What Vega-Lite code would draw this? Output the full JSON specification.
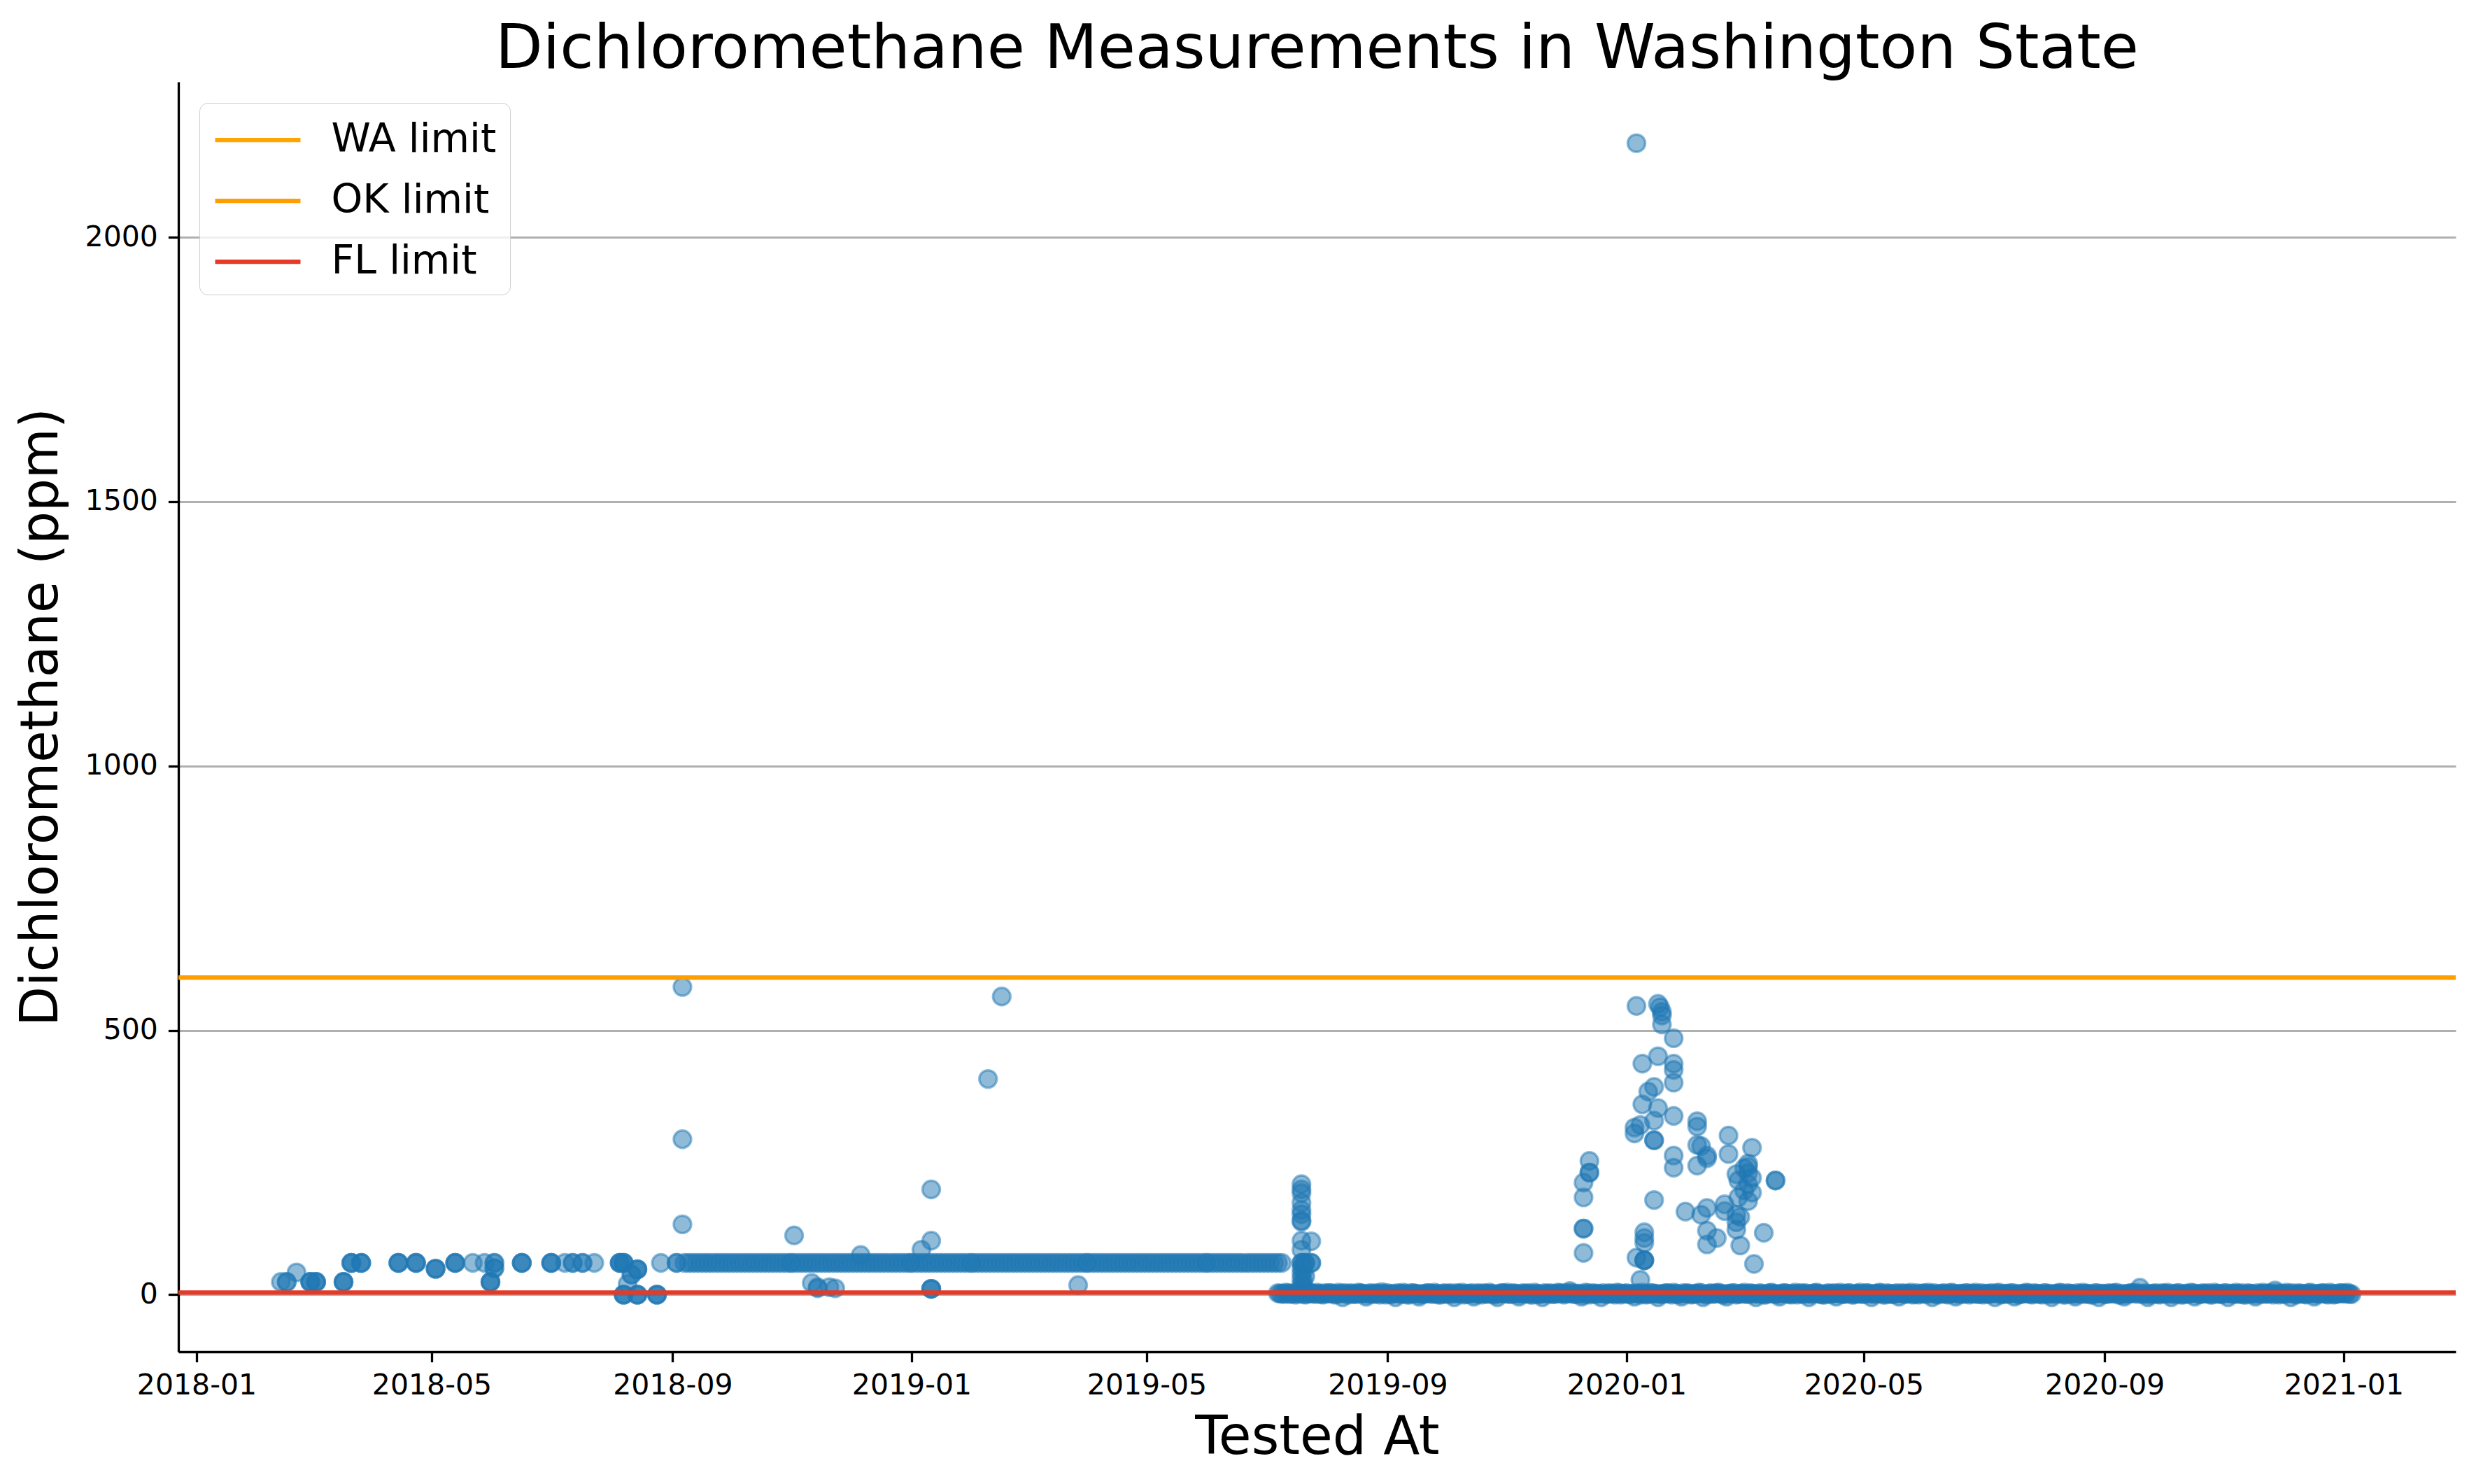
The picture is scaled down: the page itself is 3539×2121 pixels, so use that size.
{
  "$schema": "https://vega.github.io/schema/vega-lite/v6.json",
  "autosize": {"type": "none"},
  "width": 3255,
  "height": 1815,
  "padding": {"left": 255, "top": 117, "right": 29, "bottom": 189},
  "background": "white",
  "title": {
    "text": "Dichloromethane Measurements in Washington State",
    "font": "DejaVu Sans", "fontSize": 88, "fontWeight": "normal", "color": "black",
    "anchor": "middle", "frame": "group", "baseline": "bottom", "offset": 0, "dy": 86
  },
  "datasets": {
    "lim": [
      {"limit": "WA limit", "v": 600},
      {"limit": "OK limit", "v": 600},
      {"limit": "FL limit", "v": 4}
    ],
    "pts": [
      {"t":"2018-02-13","v":24},
      {"t":"2018-02-16","v":24},{"t":"2018-02-16","v":24},
      {"t":"2018-02-21","v":42},
      {"t":"2018-02-28","v":24},{"t":"2018-02-28","v":24},{"t":"2018-02-28","v":24},
      {"t":"2018-03-03","v":24},{"t":"2018-03-03","v":24},{"t":"2018-03-03","v":24},
      {"t":"2018-03-17","v":24},{"t":"2018-03-17","v":24},{"t":"2018-03-17","v":24},
      {"t":"2018-03-21","v":60},{"t":"2018-03-21","v":60},{"t":"2018-03-21","v":60},
      {"t":"2018-03-26","v":60},{"t":"2018-03-26","v":60},{"t":"2018-03-26","v":60},
      {"t":"2018-04-14","v":60},{"t":"2018-04-14","v":60},{"t":"2018-04-14","v":60},
      {"t":"2018-04-23","v":60},{"t":"2018-04-23","v":60},{"t":"2018-04-23","v":60},
      {"t":"2018-05-03","v":49},{"t":"2018-05-03","v":49},{"t":"2018-05-03","v":49},
      {"t":"2018-05-13","v":60},{"t":"2018-05-13","v":60},{"t":"2018-05-13","v":60},
      {"t":"2018-05-22","v":60},
      {"t":"2018-05-28","v":60},
      {"t":"2018-05-31","v":24},{"t":"2018-05-31","v":24},{"t":"2018-05-31","v":24},
      {"t":"2018-06-02","v":60},{"t":"2018-06-02","v":60},{"t":"2018-06-02","v":50},{"t":"2018-06-02","v":50},
      {"t":"2018-06-16","v":60},{"t":"2018-06-16","v":60},{"t":"2018-06-16","v":60},
      {"t":"2018-07-01","v":60},{"t":"2018-07-01","v":60},{"t":"2018-07-01","v":60},
      {"t":"2018-07-08","v":60},
      {"t":"2018-07-12","v":60},{"t":"2018-07-12","v":60},
      {"t":"2018-07-17","v":60},{"t":"2018-07-17","v":60},
      {"t":"2018-07-23","v":60},
      {"t":"2018-08-05","v":60},{"t":"2018-08-05","v":60},{"t":"2018-08-05","v":60},
      {"t":"2018-08-07","v":60},{"t":"2018-08-07","v":60},{"t":"2018-08-07","v":60},
      {"t":"2018-08-07","v":0},{"t":"2018-08-07","v":0},{"t":"2018-08-07","v":0},
      {"t":"2018-08-09","v":20},
      {"t":"2018-08-11","v":38},{"t":"2018-08-11","v":38},
      {"t":"2018-08-14","v":48},{"t":"2018-08-14","v":48},{"t":"2018-08-14","v":48},
      {"t":"2018-08-14","v":0},{"t":"2018-08-14","v":0},{"t":"2018-08-14","v":0},
      {"t":"2018-08-24","v":0},{"t":"2018-08-24","v":0},{"t":"2018-08-24","v":0},
      {"t":"2018-08-26","v":60},
      {"t":"2018-09-03","v":60},{"t":"2018-09-03","v":60},
      {"t":"2018-09-06","v":582},{"t":"2018-09-06","v":294},{"t":"2018-09-06","v":133},

      {"t":"2018-09-07","v":60},{"t":"2018-09-09","v":60},{"t":"2018-09-11","v":60},{"t":"2018-09-13","v":60},{"t":"2018-09-15","v":60},{"t":"2018-09-17","v":60},{"t":"2018-09-19","v":60},{"t":"2018-09-21","v":60},{"t":"2018-09-23","v":60},{"t":"2018-09-25","v":60},{"t":"2018-09-27","v":60},{"t":"2018-09-29","v":60},
      {"t":"2018-10-01","v":60},{"t":"2018-10-03","v":60},{"t":"2018-10-05","v":60},{"t":"2018-10-07","v":60},{"t":"2018-10-09","v":60},{"t":"2018-10-11","v":60},{"t":"2018-10-13","v":60},{"t":"2018-10-15","v":60},{"t":"2018-10-17","v":60},{"t":"2018-10-19","v":60},{"t":"2018-10-21","v":60},{"t":"2018-10-23","v":60},{"t":"2018-10-25","v":60},{"t":"2018-10-27","v":60},{"t":"2018-10-29","v":60},{"t":"2018-10-31","v":60},
      {"t":"2018-11-01","v":60},{"t":"2018-11-03","v":60},{"t":"2018-11-05","v":60},{"t":"2018-11-07","v":60},{"t":"2018-11-09","v":60},{"t":"2018-11-11","v":60},{"t":"2018-11-13","v":60},{"t":"2018-11-15","v":60},{"t":"2018-11-17","v":60},{"t":"2018-11-19","v":60},{"t":"2018-11-21","v":60},{"t":"2018-11-23","v":60},{"t":"2018-11-25","v":60},{"t":"2018-11-27","v":60},{"t":"2018-11-29","v":60},
      {"t":"2018-12-01","v":60},{"t":"2018-12-03","v":60},{"t":"2018-12-05","v":60},{"t":"2018-12-07","v":60},{"t":"2018-12-09","v":60},{"t":"2018-12-11","v":60},{"t":"2018-12-13","v":60},{"t":"2018-12-15","v":60},{"t":"2018-12-17","v":60},{"t":"2018-12-19","v":60},{"t":"2018-12-21","v":60},{"t":"2018-12-23","v":60},{"t":"2018-12-25","v":60},{"t":"2018-12-27","v":60},{"t":"2018-12-29","v":60},{"t":"2018-12-31","v":60},
      {"t":"2019-01-01","v":60},{"t":"2019-01-03","v":60},{"t":"2019-01-05","v":60},{"t":"2019-01-07","v":60},{"t":"2019-01-09","v":60},{"t":"2019-01-11","v":60},{"t":"2019-01-13","v":60},{"t":"2019-01-15","v":60},{"t":"2019-01-17","v":60},{"t":"2019-01-19","v":60},{"t":"2019-01-21","v":60},{"t":"2019-01-23","v":60},{"t":"2019-01-25","v":60},{"t":"2019-01-27","v":60},{"t":"2019-01-29","v":60},{"t":"2019-01-31","v":60},
      {"t":"2019-02-01","v":60},{"t":"2019-02-03","v":60},{"t":"2019-02-05","v":60},{"t":"2019-02-07","v":60},{"t":"2019-02-09","v":60},{"t":"2019-02-11","v":60},{"t":"2019-02-13","v":60},{"t":"2019-02-15","v":60},{"t":"2019-02-17","v":60},{"t":"2019-02-19","v":60},{"t":"2019-02-21","v":60},{"t":"2019-02-23","v":60},{"t":"2019-02-25","v":60},{"t":"2019-02-27","v":60},
      {"t":"2019-03-01","v":60},{"t":"2019-03-03","v":60},{"t":"2019-03-05","v":60},{"t":"2019-03-07","v":60},{"t":"2019-03-09","v":60},{"t":"2019-03-11","v":60},{"t":"2019-03-13","v":60},{"t":"2019-03-15","v":60},{"t":"2019-03-17","v":60},{"t":"2019-03-19","v":60},{"t":"2019-03-21","v":60},{"t":"2019-03-23","v":60},{"t":"2019-03-25","v":60},{"t":"2019-03-27","v":60},{"t":"2019-03-29","v":60},{"t":"2019-03-31","v":60},
      {"t":"2019-04-01","v":60},{"t":"2019-04-03","v":60},{"t":"2019-04-05","v":60},{"t":"2019-04-07","v":60},{"t":"2019-04-09","v":60},{"t":"2019-04-11","v":60},{"t":"2019-04-13","v":60},{"t":"2019-04-15","v":60},{"t":"2019-04-17","v":60},{"t":"2019-04-19","v":60},{"t":"2019-04-21","v":60},{"t":"2019-04-23","v":60},{"t":"2019-04-25","v":60},{"t":"2019-04-27","v":60},{"t":"2019-04-29","v":60},
      {"t":"2019-05-01","v":60},{"t":"2019-05-03","v":60},{"t":"2019-05-05","v":60},{"t":"2019-05-07","v":60},{"t":"2019-05-09","v":60},{"t":"2019-05-11","v":60},{"t":"2019-05-13","v":60},{"t":"2019-05-15","v":60},{"t":"2019-05-17","v":60},{"t":"2019-05-19","v":60},{"t":"2019-05-21","v":60},{"t":"2019-05-23","v":60},{"t":"2019-05-25","v":60},{"t":"2019-05-27","v":60},{"t":"2019-05-29","v":60},{"t":"2019-05-31","v":60},
      {"t":"2019-06-01","v":60},{"t":"2019-06-03","v":60},{"t":"2019-06-05","v":60},{"t":"2019-06-07","v":60},{"t":"2019-06-09","v":60},{"t":"2019-06-11","v":60},{"t":"2019-06-13","v":60},{"t":"2019-06-15","v":60},{"t":"2019-06-17","v":60},{"t":"2019-06-19","v":60},{"t":"2019-06-21","v":60},{"t":"2019-06-23","v":60},{"t":"2019-06-25","v":60},{"t":"2019-06-27","v":60},{"t":"2019-06-29","v":60},
      {"t":"2019-07-01","v":60},{"t":"2019-07-03","v":60},{"t":"2019-07-05","v":60},{"t":"2019-07-07","v":60},{"t":"2019-07-09","v":60},

      {"t":"2018-11-02","v":112},
      {"t":"2018-11-11","v":22},{"t":"2018-11-14","v":12},{"t":"2018-11-14","v":14},{"t":"2018-11-20","v":14},{"t":"2018-11-23","v":12},
      {"t":"2018-12-06","v":75},
      {"t":"2019-01-06","v":85},
      {"t":"2019-01-11","v":199},{"t":"2019-01-11","v":102},{"t":"2019-01-11","v":11},{"t":"2019-01-11","v":11},{"t":"2019-01-11","v":11},
      {"t":"2019-02-09","v":408},
      {"t":"2019-02-16","v":564},
      {"t":"2019-03-27","v":18},

      {"t":"2019-07-19","v":209},{"t":"2019-07-19","v":199},{"t":"2019-07-19","v":192},{"t":"2019-07-19","v":174},{"t":"2019-07-19","v":160},{"t":"2019-07-19","v":152},{"t":"2019-07-19","v":140},{"t":"2019-07-19","v":138},{"t":"2019-07-19","v":102},{"t":"2019-07-19","v":85},{"t":"2019-07-19","v":60},{"t":"2019-07-19","v":60},{"t":"2019-07-19","v":50},{"t":"2019-07-19","v":40},{"t":"2019-07-19","v":30},{"t":"2019-07-19","v":20},{"t":"2019-07-19","v":10},
      {"t":"2019-07-20","v":45},{"t":"2019-07-20","v":25},{"t":"2019-07-20","v":15},{"t":"2019-07-20","v":60},
      {"t":"2019-07-21","v":60},{"t":"2019-07-21","v":60},{"t":"2019-07-21","v":35},
      {"t":"2019-07-24","v":101},{"t":"2019-07-24","v":60},{"t":"2019-07-24","v":60},

      {"t":"2019-07-07","v":3},{"t":"2019-07-09","v":2},{"t":"2019-07-11","v":4},{"t":"2019-07-13","v":1},{"t":"2019-07-15","v":3},{"t":"2019-07-17","v":2},{"t":"2019-07-19","v":5},{"t":"2019-07-21","v":0},{"t":"2019-07-23","v":3},{"t":"2019-07-25","v":2},{"t":"2019-07-27","v":4},{"t":"2019-07-29","v":1},{"t":"2019-07-31","v":3},
      {"t":"2019-08-01","v":2},{"t":"2019-08-03","v":3},{"t":"2019-08-05","v":0},{"t":"2019-08-07","v":4},{"t":"2019-08-09","v":-5},{"t":"2019-08-11","v":2},{"t":"2019-08-13","v":3},{"t":"2019-08-15","v":1},{"t":"2019-08-17","v":4},{"t":"2019-08-19","v":2},{"t":"2019-08-21","v":-4},{"t":"2019-08-23","v":3},{"t":"2019-08-25","v":1},{"t":"2019-08-27","v":2},{"t":"2019-08-29","v":5},{"t":"2019-08-31","v":0},
      {"t":"2019-09-01","v":3},{"t":"2019-09-03","v":1},{"t":"2019-09-05","v":-5},{"t":"2019-09-07","v":2},{"t":"2019-09-09","v":4},{"t":"2019-09-11","v":0},{"t":"2019-09-13","v":3},{"t":"2019-09-15","v":2},{"t":"2019-09-17","v":-4},{"t":"2019-09-19","v":1},{"t":"2019-09-21","v":3},{"t":"2019-09-23","v":2},{"t":"2019-09-25","v":4},{"t":"2019-09-27","v":0},{"t":"2019-09-29","v":2},
      {"t":"2019-10-01","v":1},{"t":"2019-10-03","v":3},{"t":"2019-10-05","v":-5},{"t":"2019-10-07","v":2},{"t":"2019-10-09","v":4},{"t":"2019-10-11","v":1},{"t":"2019-10-13","v":2},{"t":"2019-10-15","v":-4},{"t":"2019-10-17","v":3},{"t":"2019-10-19","v":0},{"t":"2019-10-21","v":2},{"t":"2019-10-23","v":4},{"t":"2019-10-25","v":1},{"t":"2019-10-27","v":-5},{"t":"2019-10-29","v":3},{"t":"2019-10-31","v":2},
      {"t":"2019-11-01","v":4},{"t":"2019-11-03","v":1},{"t":"2019-11-05","v":2},{"t":"2019-11-07","v":-4},{"t":"2019-11-09","v":3},{"t":"2019-11-11","v":2},{"t":"2019-11-13","v":0},{"t":"2019-11-15","v":4},{"t":"2019-11-17","v":1},{"t":"2019-11-19","v":-5},{"t":"2019-11-21","v":2},{"t":"2019-11-23","v":3},{"t":"2019-11-25","v":1},{"t":"2019-11-27","v":4},{"t":"2019-11-29","v":2},
      {"t":"2019-12-01","v":3},{"t":"2019-12-03","v":7},{"t":"2019-12-05","v":1},{"t":"2019-12-07","v":2},{"t":"2019-12-09","v":-4},{"t":"2019-12-11","v":4},{"t":"2019-12-13","v":0},{"t":"2019-12-15","v":3},{"t":"2019-12-17","v":2},{"t":"2019-12-19","v":-5},{"t":"2019-12-21","v":1},{"t":"2019-12-23","v":3},{"t":"2019-12-25","v":2},{"t":"2019-12-27","v":4},{"t":"2019-12-29","v":0},{"t":"2019-12-31","v":2},
      {"t":"2020-01-01","v":3},{"t":"2020-01-03","v":1},{"t":"2020-01-05","v":-4},{"t":"2020-01-07","v":2},{"t":"2020-01-09","v":4},{"t":"2020-01-11","v":0},{"t":"2020-01-13","v":3},{"t":"2020-01-15","v":2},{"t":"2020-01-17","v":-5},{"t":"2020-01-19","v":1},{"t":"2020-01-21","v":3},{"t":"2020-01-23","v":2},{"t":"2020-01-25","v":4},{"t":"2020-01-27","v":1},{"t":"2020-01-29","v":-4},{"t":"2020-01-31","v":2},
      {"t":"2020-02-01","v":3},{"t":"2020-02-03","v":0},{"t":"2020-02-05","v":2},{"t":"2020-02-07","v":4},{"t":"2020-02-09","v":-5},{"t":"2020-02-11","v":1},{"t":"2020-02-13","v":3},{"t":"2020-02-15","v":2},{"t":"2020-02-17","v":4},{"t":"2020-02-19","v":0},{"t":"2020-02-21","v":-4},{"t":"2020-02-23","v":2},{"t":"2020-02-25","v":3},{"t":"2020-02-27","v":1},{"t":"2020-02-29","v":2},
      {"t":"2020-03-01","v":4},{"t":"2020-03-03","v":1},{"t":"2020-03-05","v":2},{"t":"2020-03-07","v":-5},{"t":"2020-03-09","v":3},{"t":"2020-03-11","v":0},{"t":"2020-03-13","v":2},{"t":"2020-03-15","v":4},{"t":"2020-03-17","v":1},{"t":"2020-03-19","v":-4},{"t":"2020-03-21","v":3},{"t":"2020-03-23","v":2},{"t":"2020-03-25","v":0},{"t":"2020-03-27","v":4},{"t":"2020-03-29","v":2},{"t":"2020-03-31","v":1},
      {"t":"2020-04-01","v":3},{"t":"2020-04-03","v":-5},{"t":"2020-04-05","v":2},{"t":"2020-04-07","v":4},{"t":"2020-04-09","v":1},{"t":"2020-04-11","v":0},{"t":"2020-04-13","v":3},{"t":"2020-04-15","v":2},{"t":"2020-04-17","v":-4},{"t":"2020-04-19","v":4},{"t":"2020-04-21","v":1},{"t":"2020-04-23","v":3},{"t":"2020-04-25","v":0},{"t":"2020-04-27","v":2},{"t":"2020-04-29","v":4},
      {"t":"2020-05-01","v":1},{"t":"2020-05-03","v":3},{"t":"2020-05-05","v":-5},{"t":"2020-05-07","v":2},{"t":"2020-05-09","v":4},{"t":"2020-05-11","v":0},{"t":"2020-05-13","v":3},{"t":"2020-05-15","v":1},{"t":"2020-05-17","v":2},{"t":"2020-05-19","v":-4},{"t":"2020-05-21","v":3},{"t":"2020-05-23","v":2},{"t":"2020-05-25","v":4},{"t":"2020-05-27","v":1},{"t":"2020-05-29","v":0},{"t":"2020-05-31","v":2},
      {"t":"2020-06-01","v":3},{"t":"2020-06-03","v":4},{"t":"2020-06-05","v":-5},{"t":"2020-06-07","v":1},{"t":"2020-06-09","v":2},{"t":"2020-06-11","v":3},{"t":"2020-06-13","v":0},{"t":"2020-06-15","v":4},{"t":"2020-06-17","v":-4},{"t":"2020-06-19","v":2},{"t":"2020-06-21","v":1},{"t":"2020-06-23","v":3},{"t":"2020-06-25","v":2},{"t":"2020-06-27","v":4},{"t":"2020-06-29","v":1},
      {"t":"2020-07-01","v":0},{"t":"2020-07-03","v":2},{"t":"2020-07-05","v":3},{"t":"2020-07-07","v":-5},{"t":"2020-07-09","v":4},{"t":"2020-07-11","v":1},{"t":"2020-07-13","v":2},{"t":"2020-07-15","v":3},{"t":"2020-07-17","v":-4},{"t":"2020-07-19","v":0},{"t":"2020-07-21","v":2},{"t":"2020-07-23","v":4},{"t":"2020-07-25","v":1},{"t":"2020-07-27","v":3},{"t":"2020-07-29","v":2},{"t":"2020-07-31","v":0},
      {"t":"2020-08-01","v":3},{"t":"2020-08-03","v":1},{"t":"2020-08-05","v":-5},{"t":"2020-08-07","v":2},{"t":"2020-08-09","v":4},{"t":"2020-08-11","v":0},{"t":"2020-08-13","v":3},{"t":"2020-08-15","v":2},{"t":"2020-08-17","v":-4},{"t":"2020-08-19","v":1},{"t":"2020-08-21","v":4},{"t":"2020-08-23","v":2},{"t":"2020-08-25","v":0},{"t":"2020-08-27","v":3},{"t":"2020-08-29","v":-5},{"t":"2020-08-31","v":2},
      {"t":"2020-09-01","v":1},{"t":"2020-09-03","v":3},{"t":"2020-09-05","v":2},{"t":"2020-09-07","v":4},{"t":"2020-09-09","v":0},{"t":"2020-09-11","v":-4},{"t":"2020-09-13","v":2},{"t":"2020-09-15","v":3},{"t":"2020-09-17","v":4},{"t":"2020-09-19","v":13},{"t":"2020-09-21","v":1},{"t":"2020-09-23","v":-5},{"t":"2020-09-25","v":2},{"t":"2020-09-27","v":3},{"t":"2020-09-29","v":0},
      {"t":"2020-10-01","v":2},{"t":"2020-10-03","v":4},{"t":"2020-10-05","v":-5},{"t":"2020-10-07","v":1},{"t":"2020-10-09","v":3},{"t":"2020-10-11","v":0},{"t":"2020-10-13","v":2},{"t":"2020-10-15","v":4},{"t":"2020-10-17","v":-4},{"t":"2020-10-19","v":1},{"t":"2020-10-21","v":3},{"t":"2020-10-23","v":2},{"t":"2020-10-25","v":0},{"t":"2020-10-27","v":4},{"t":"2020-10-29","v":2},{"t":"2020-10-31","v":1},
      {"t":"2020-11-01","v":3},{"t":"2020-11-03","v":-5},{"t":"2020-11-05","v":2},{"t":"2020-11-07","v":4},{"t":"2020-11-09","v":1},{"t":"2020-11-11","v":0},{"t":"2020-11-13","v":3},{"t":"2020-11-15","v":2},{"t":"2020-11-17","v":-4},{"t":"2020-11-19","v":1},{"t":"2020-11-21","v":4},{"t":"2020-11-23","v":2},{"t":"2020-11-25","v":3},{"t":"2020-11-27","v":8},{"t":"2020-11-29","v":0},
      {"t":"2020-12-01","v":2},{"t":"2020-12-03","v":4},{"t":"2020-12-05","v":-5},{"t":"2020-12-07","v":1},{"t":"2020-12-09","v":3},{"t":"2020-12-11","v":2},{"t":"2020-12-13","v":0},{"t":"2020-12-15","v":4},{"t":"2020-12-17","v":-4},{"t":"2020-12-19","v":2},{"t":"2020-12-21","v":3},{"t":"2020-12-23","v":1},{"t":"2020-12-25","v":4},{"t":"2020-12-27","v":0},{"t":"2020-12-29","v":2},{"t":"2020-12-31","v":3},
      {"t":"2021-01-01","v":2},{"t":"2021-01-03","v":4},{"t":"2021-01-05","v":1},

      {"t":"2019-07-08","v":2},{"t":"2019-07-10","v":1},{"t":"2019-07-12","v":3},{"t":"2019-07-14","v":2},{"t":"2019-07-16","v":0},{"t":"2019-07-18","v":3},{"t":"2019-07-20","v":1},{"t":"2019-07-22","v":2},{"t":"2019-07-24","v":3},{"t":"2019-07-26","v":1},{"t":"2019-07-28","v":2},{"t":"2019-07-30","v":0},
      {"t":"2019-08-02","v":3},{"t":"2019-08-04","v":2},{"t":"2019-08-06","v":1},{"t":"2019-08-08","v":2},{"t":"2019-08-10","v":3},{"t":"2019-08-12","v":0},{"t":"2019-08-14","v":2},{"t":"2019-08-16","v":1},{"t":"2019-08-18","v":3},{"t":"2019-08-20","v":2},{"t":"2019-08-22","v":1},{"t":"2019-08-24","v":2},{"t":"2019-08-26","v":3},{"t":"2019-08-28","v":0},{"t":"2019-08-30","v":2},
      {"t":"2019-09-02","v":1},{"t":"2019-09-04","v":2},{"t":"2019-09-06","v":3},{"t":"2019-09-08","v":1},{"t":"2019-09-10","v":2},{"t":"2019-09-12","v":0},{"t":"2019-09-14","v":3},{"t":"2019-09-16","v":2},{"t":"2019-09-18","v":1},{"t":"2019-09-20","v":2},{"t":"2019-09-22","v":3},{"t":"2019-09-24","v":1},{"t":"2019-09-26","v":2},{"t":"2019-09-28","v":0},{"t":"2019-09-30","v":3},
      {"t":"2019-10-02","v":2},{"t":"2019-10-04","v":1},{"t":"2019-10-06","v":3},{"t":"2019-10-08","v":2},{"t":"2019-10-10","v":0},{"t":"2019-10-12","v":2},{"t":"2019-10-14","v":3},{"t":"2019-10-16","v":1},{"t":"2019-10-18","v":2},{"t":"2019-10-20","v":3},{"t":"2019-10-22","v":1},{"t":"2019-10-24","v":2},{"t":"2019-10-26","v":0},{"t":"2019-10-28","v":2},{"t":"2019-10-30","v":3},
      {"t":"2019-11-02","v":1},{"t":"2019-11-04","v":3},{"t":"2019-11-06","v":2},{"t":"2019-11-08","v":1},{"t":"2019-11-10","v":2},{"t":"2019-11-12","v":3},{"t":"2019-11-14","v":0},{"t":"2019-11-16","v":2},{"t":"2019-11-18","v":1},{"t":"2019-11-20","v":3},{"t":"2019-11-22","v":2},{"t":"2019-11-24","v":1},{"t":"2019-11-26","v":2},{"t":"2019-11-28","v":3},{"t":"2019-11-30","v":0},
      {"t":"2019-12-02","v":2},{"t":"2019-12-04","v":3},{"t":"2019-12-06","v":1},{"t":"2019-12-08","v":2},{"t":"2019-12-10","v":0},{"t":"2019-12-12","v":3},{"t":"2019-12-14","v":2},{"t":"2019-12-16","v":1},{"t":"2019-12-18","v":2},{"t":"2019-12-20","v":3},{"t":"2019-12-22","v":1},{"t":"2019-12-24","v":2},{"t":"2019-12-26","v":0},{"t":"2019-12-28","v":3},{"t":"2019-12-30","v":2},
      {"t":"2020-01-02","v":1},{"t":"2020-01-04","v":2},{"t":"2020-01-06","v":3},{"t":"2020-01-08","v":0},{"t":"2020-01-10","v":2},{"t":"2020-01-12","v":1},{"t":"2020-01-14","v":3},{"t":"2020-01-16","v":2},{"t":"2020-01-18","v":1},{"t":"2020-01-20","v":2},{"t":"2020-01-22","v":3},{"t":"2020-01-24","v":0},{"t":"2020-01-26","v":2},{"t":"2020-01-28","v":1},{"t":"2020-01-30","v":3},
      {"t":"2020-02-02","v":2},{"t":"2020-02-04","v":1},{"t":"2020-02-06","v":2},{"t":"2020-02-08","v":3},{"t":"2020-02-10","v":0},{"t":"2020-02-12","v":2},{"t":"2020-02-14","v":1},{"t":"2020-02-16","v":3},{"t":"2020-02-18","v":2},{"t":"2020-02-20","v":1},{"t":"2020-02-22","v":2},{"t":"2020-02-24","v":3},{"t":"2020-02-26","v":0},{"t":"2020-02-28","v":2},
      {"t":"2020-03-02","v":1},{"t":"2020-03-04","v":3},{"t":"2020-03-06","v":2},{"t":"2020-03-08","v":1},{"t":"2020-03-10","v":2},{"t":"2020-03-12","v":0},{"t":"2020-03-14","v":3},{"t":"2020-03-16","v":2},{"t":"2020-03-18","v":1},{"t":"2020-03-20","v":2},{"t":"2020-03-22","v":3},{"t":"2020-03-24","v":1},{"t":"2020-03-26","v":2},{"t":"2020-03-28","v":0},{"t":"2020-03-30","v":3},
      {"t":"2020-04-02","v":2},{"t":"2020-04-04","v":1},{"t":"2020-04-06","v":3},{"t":"2020-04-08","v":2},{"t":"2020-04-10","v":0},{"t":"2020-04-12","v":2},{"t":"2020-04-14","v":1},{"t":"2020-04-16","v":3},{"t":"2020-04-18","v":2},{"t":"2020-04-20","v":1},{"t":"2020-04-22","v":2},{"t":"2020-04-24","v":3},{"t":"2020-04-26","v":0},{"t":"2020-04-28","v":2},{"t":"2020-04-30","v":1},
      {"t":"2020-05-02","v":3},{"t":"2020-05-04","v":2},{"t":"2020-05-06","v":1},{"t":"2020-05-08","v":2},{"t":"2020-05-10","v":3},{"t":"2020-05-12","v":0},{"t":"2020-05-14","v":2},{"t":"2020-05-16","v":1},{"t":"2020-05-18","v":3},{"t":"2020-05-20","v":2},{"t":"2020-05-22","v":1},{"t":"2020-05-24","v":2},{"t":"2020-05-26","v":0},{"t":"2020-05-28","v":3},{"t":"2020-05-30","v":2},
      {"t":"2020-06-02","v":1},{"t":"2020-06-04","v":2},{"t":"2020-06-06","v":3},{"t":"2020-06-08","v":0},{"t":"2020-06-10","v":2},{"t":"2020-06-12","v":1},{"t":"2020-06-14","v":3},{"t":"2020-06-16","v":2},{"t":"2020-06-18","v":1},{"t":"2020-06-20","v":2},{"t":"2020-06-22","v":3},{"t":"2020-06-24","v":0},{"t":"2020-06-26","v":2},{"t":"2020-06-28","v":1},{"t":"2020-06-30","v":3},
      {"t":"2020-07-02","v":2},{"t":"2020-07-04","v":1},{"t":"2020-07-06","v":2},{"t":"2020-07-08","v":3},{"t":"2020-07-10","v":0},{"t":"2020-07-12","v":2},{"t":"2020-07-14","v":1},{"t":"2020-07-16","v":3},{"t":"2020-07-18","v":2},{"t":"2020-07-20","v":1},{"t":"2020-07-22","v":2},{"t":"2020-07-24","v":3},{"t":"2020-07-26","v":0},{"t":"2020-07-28","v":2},{"t":"2020-07-30","v":1},
      {"t":"2020-08-02","v":3},{"t":"2020-08-04","v":2},{"t":"2020-08-06","v":1},{"t":"2020-08-08","v":2},{"t":"2020-08-10","v":3},{"t":"2020-08-12","v":0},{"t":"2020-08-14","v":2},{"t":"2020-08-16","v":1},{"t":"2020-08-18","v":3},{"t":"2020-08-20","v":2},{"t":"2020-08-22","v":1},{"t":"2020-08-24","v":2},{"t":"2020-08-26","v":0},{"t":"2020-08-28","v":3},{"t":"2020-08-30","v":2},
      {"t":"2020-09-02","v":1},{"t":"2020-09-04","v":2},{"t":"2020-09-06","v":3},{"t":"2020-09-08","v":0},{"t":"2020-09-10","v":2},{"t":"2020-09-12","v":1},{"t":"2020-09-14","v":3},{"t":"2020-09-16","v":2},{"t":"2020-09-18","v":1},{"t":"2020-09-20","v":2},{"t":"2020-09-22","v":3},{"t":"2020-09-24","v":0},{"t":"2020-09-26","v":2},{"t":"2020-09-28","v":1},{"t":"2020-09-30","v":3},
      {"t":"2020-10-02","v":2},{"t":"2020-10-04","v":1},{"t":"2020-10-06","v":2},{"t":"2020-10-08","v":3},{"t":"2020-10-10","v":0},{"t":"2020-10-12","v":2},{"t":"2020-10-14","v":1},{"t":"2020-10-16","v":3},{"t":"2020-10-18","v":2},{"t":"2020-10-20","v":1},{"t":"2020-10-22","v":2},{"t":"2020-10-24","v":3},{"t":"2020-10-26","v":0},{"t":"2020-10-28","v":2},{"t":"2020-10-30","v":1},
      {"t":"2020-11-02","v":3},{"t":"2020-11-04","v":2},{"t":"2020-11-06","v":1},{"t":"2020-11-08","v":2},{"t":"2020-11-10","v":3},{"t":"2020-11-12","v":0},{"t":"2020-11-14","v":2},{"t":"2020-11-16","v":1},{"t":"2020-11-18","v":3},{"t":"2020-11-20","v":2},{"t":"2020-11-22","v":1},{"t":"2020-11-24","v":2},{"t":"2020-11-26","v":0},{"t":"2020-11-28","v":3},{"t":"2020-11-30","v":2},
      {"t":"2020-12-02","v":1},{"t":"2020-12-04","v":2},{"t":"2020-12-06","v":3},{"t":"2020-12-08","v":0},{"t":"2020-12-10","v":2},{"t":"2020-12-12","v":1},{"t":"2020-12-14","v":3},{"t":"2020-12-16","v":2},{"t":"2020-12-18","v":1},{"t":"2020-12-20","v":2},{"t":"2020-12-22","v":3},{"t":"2020-12-24","v":0},{"t":"2020-12-26","v":2},{"t":"2020-12-28","v":1},{"t":"2020-12-30","v":3},
      {"t":"2021-01-02","v":2},{"t":"2021-01-04","v":1},

      {"t":"2019-12-10","v":212},{"t":"2019-12-10","v":184},{"t":"2019-12-10","v":125},{"t":"2019-12-10","v":125},{"t":"2019-12-10","v":79},
      {"t":"2019-12-13","v":253},{"t":"2019-12-13","v":231},{"t":"2019-12-13","v":231},
      {"t":"2020-01-05","v":316},{"t":"2020-01-05","v":305},
      {"t":"2020-01-06","v":2178},{"t":"2020-01-06","v":546},{"t":"2020-01-06","v":70},
      {"t":"2020-01-08","v":321},{"t":"2020-01-08","v":28},
      {"t":"2020-01-09","v":437},{"t":"2020-01-09","v":360},
      {"t":"2020-01-10","v":118},{"t":"2020-01-10","v":107},{"t":"2020-01-10","v":98},{"t":"2020-01-10","v":65},{"t":"2020-01-10","v":65},{"t":"2020-01-10","v":65},
      {"t":"2020-01-12","v":384},
      {"t":"2020-01-15","v":393},{"t":"2020-01-15","v":329},{"t":"2020-01-15","v":292},{"t":"2020-01-15","v":292},{"t":"2020-01-15","v":179},
      {"t":"2020-01-17","v":550},{"t":"2020-01-17","v":451},{"t":"2020-01-17","v":353},
      {"t":"2020-01-18","v":544},
      {"t":"2020-01-19","v":535},{"t":"2020-01-19","v":528},{"t":"2020-01-19","v":511},
      {"t":"2020-01-25","v":485},{"t":"2020-01-25","v":437},{"t":"2020-01-25","v":425},{"t":"2020-01-25","v":401},{"t":"2020-01-25","v":338},{"t":"2020-01-25","v":263},{"t":"2020-01-25","v":240},
      {"t":"2020-01-31","v":157},
      {"t":"2020-02-06","v":328},{"t":"2020-02-06","v":318},{"t":"2020-02-06","v":283},{"t":"2020-02-06","v":244},
      {"t":"2020-02-08","v":281},{"t":"2020-02-08","v":151},
      {"t":"2020-02-11","v":263},{"t":"2020-02-11","v":258},{"t":"2020-02-11","v":164},{"t":"2020-02-11","v":121},{"t":"2020-02-11","v":95},
      {"t":"2020-02-16","v":107},
      {"t":"2020-02-20","v":171},{"t":"2020-02-20","v":158},
      {"t":"2020-02-22","v":301},{"t":"2020-02-22","v":266},
      {"t":"2020-02-26","v":228},{"t":"2020-02-26","v":151},{"t":"2020-02-26","v":137},{"t":"2020-02-26","v":123},
      {"t":"2020-02-27","v":216},{"t":"2020-02-27","v":184},
      {"t":"2020-02-28","v":147},{"t":"2020-02-28","v":93},
      {"t":"2020-03-01","v":239},{"t":"2020-03-01","v":197},
      {"t":"2020-03-03","v":248},{"t":"2020-03-03","v":242},{"t":"2020-03-03","v":230},{"t":"2020-03-03","v":209},{"t":"2020-03-03","v":177},
      {"t":"2020-03-05","v":278},{"t":"2020-03-05","v":221},{"t":"2020-03-05","v":193},
      {"t":"2020-03-06","v":58},
      {"t":"2020-03-11","v":117},
      {"t":"2020-03-17","v":216},{"t":"2020-03-17","v":216}
    ]
  },
  "layer": [
    {
      "data": {"name": "pts"},
      "mark": {"type": "circle", "size": 620, "fill": "#1f77b4", "fillOpacity": 0.5, "stroke": "#1f77b4", "strokeOpacity": 0.5, "strokeWidth": 3.5},
      "encoding": {
        "x": {
          "field": "t", "type": "temporal",
          "scale": {"type": "utc", "domain": [
            {"year": 2017, "month": 12, "date": 22, "hours": 17, "utc": true},
            {"year": 2021, "month": 2, "date": 27, "hours": 5, "utc": true}
          ]},
          "axis": {
            "title": "Tested At",
            "values": [
              {"year": 2018, "month": 1, "date": 1, "utc": true},
              {"year": 2018, "month": 5, "date": 1, "utc": true},
              {"year": 2018, "month": 9, "date": 1, "utc": true},
              {"year": 2019, "month": 1, "date": 1, "utc": true},
              {"year": 2019, "month": 5, "date": 1, "utc": true},
              {"year": 2019, "month": 9, "date": 1, "utc": true},
              {"year": 2020, "month": 1, "date": 1, "utc": true},
              {"year": 2020, "month": 5, "date": 1, "utc": true},
              {"year": 2020, "month": 9, "date": 1, "utc": true},
              {"year": 2021, "month": 1, "date": 1, "utc": true}
            ],
            "labelExpr": "utcFormat(datum.value, '%Y-%m')",
            "grid": false, "labelFlush": false, "labelOverlap": false, "labelLimit": 400,
            "labelFont": "DejaVu Sans", "labelFontSize": 41, "labelColor": "black", "labelPadding": 14,
            "titleFont": "DejaVu Sans", "titleFontSize": 76, "titleFontWeight": "normal", "titleColor": "black", "titlePadding": 17,
            "tickSize": 14.6, "tickWidth": 3.3, "tickColor": "black",
            "domainWidth": 3.3, "domainColor": "black"
          }
        },
        "y": {
          "field": "v", "type": "quantitative",
          "scale": {"domain": [-108, 2294], "nice": false, "zero": false},
          "axis": {
            "title": "Dichloromethane (ppm)",
            "values": [0, 500, 1000, 1500, 2000],
            "format": "d",
            "grid": true, "gridColor": "#b0b0b0", "gridWidth": 3,
            "labelFont": "DejaVu Sans", "labelFontSize": 41, "labelColor": "black", "labelPadding": 15,
            "titleFont": "DejaVu Sans", "titleFontSize": 74, "titleFontWeight": "normal", "titleColor": "black", "titlePadding": 24,
            "tickSize": 14.6, "tickWidth": 3.3, "tickColor": "black",
            "domainWidth": 3.3, "domainColor": "black"
          }
        }
      }
    },
    {
      "data": {"name": "lim"},
      "mark": {"type": "rule", "strokeWidth": 6.25},
      "encoding": {
        "y": {"field": "v", "type": "quantitative"},
        "color": {
          "field": "limit", "type": "nominal",
          "scale": {"domain": ["WA limit", "OK limit", "FL limit"], "range": ["#FFA500", "#FF9E00", "#E53A26"]},
          "legend": {
            "title": null, "orient": "top-left", "offset": 30, "padding": 19,
            "labelFont": "DejaVu Sans", "labelFontSize": 57, "labelColor": "black", "labelOffset": 71, "labelLimit": 600,
            "symbolType": "M-2,0L2,0", "symbolSize": 3721, "symbolStrokeWidth": 6.25, "symbolOffset": 30.5,
            "rowPadding": 25,
            "strokeColor": "#cccccc", "fillColor": "rgba(255,255,255,0.8)", "cornerRadius": 12
          }
        }
      }
    }
  ],
  "config": {
    "view": {"stroke": null},
    "font": "DejaVu Sans"
  }
}
